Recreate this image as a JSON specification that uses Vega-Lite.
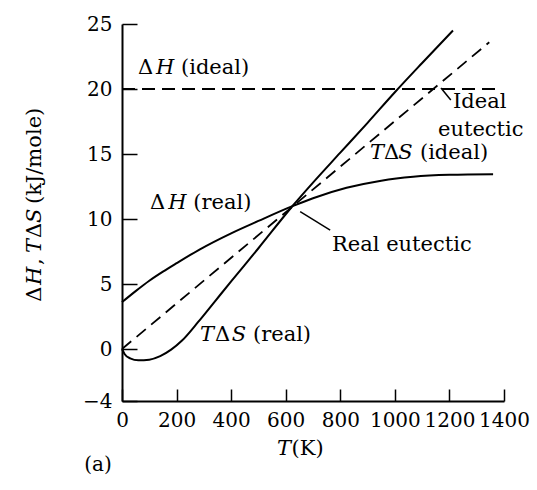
{
  "$schema": "https://vega.github.io/schema/vega-lite/v6.json",
  "width": 382,
  "height": 377,
  "autosize": {"type": "none"},
  "padding": {"left": 122, "top": 24, "right": 33, "bottom": 89},
  "background": "white",
  "config": {"view": {"stroke": null}, "font": "DejaVu Serif"},
  "datasets": {
    "curves": [
      {"series": "dH_ideal", "T": 0, "v": 20},
      {"series": "dH_ideal", "T": 1390, "v": 20},
      {"series": "dS_ideal", "T": 0, "v": 0},
      {"series": "dS_ideal", "T": 1346, "v": 23.6},
      {"series": "dH_real", "T": 0, "v": 3.6},
      {"series": "dH_real", "T": 50, "v": 4.45},
      {"series": "dH_real", "T": 100, "v": 5.25},
      {"series": "dH_real", "T": 150, "v": 5.95},
      {"series": "dH_real", "T": 200, "v": 6.6},
      {"series": "dH_real", "T": 284, "v": 7.65},
      {"series": "dH_real", "T": 400, "v": 8.9},
      {"series": "dH_real", "T": 500, "v": 9.85},
      {"series": "dH_real", "T": 620, "v": 10.95},
      {"series": "dH_real", "T": 700, "v": 11.6},
      {"series": "dH_real", "T": 823, "v": 12.4},
      {"series": "dH_real", "T": 950, "v": 12.95},
      {"series": "dH_real", "T": 1067, "v": 13.25},
      {"series": "dH_real", "T": 1200, "v": 13.4},
      {"series": "dH_real", "T": 1360, "v": 13.45},
      {"series": "dS_real", "T": 0, "v": 0},
      {"series": "dS_real", "T": 10, "v": -0.4},
      {"series": "dS_real", "T": 30, "v": -0.72},
      {"series": "dS_real", "T": 60, "v": -0.87},
      {"series": "dS_real", "T": 100, "v": -0.82},
      {"series": "dS_real", "T": 140, "v": -0.55},
      {"series": "dS_real", "T": 180, "v": -0.05},
      {"series": "dS_real", "T": 220, "v": 0.65},
      {"series": "dS_real", "T": 280, "v": 2.1},
      {"series": "dS_real", "T": 340, "v": 3.65},
      {"series": "dS_real", "T": 400, "v": 5.2},
      {"series": "dS_real", "T": 500, "v": 7.75},
      {"series": "dS_real", "T": 625, "v": 11.0},
      {"series": "dS_real", "T": 700, "v": 12.8},
      {"series": "dS_real", "T": 800, "v": 15.1},
      {"series": "dS_real", "T": 900, "v": 17.4},
      {"series": "dS_real", "T": 1000, "v": 19.75},
      {"series": "dS_real", "T": 1100, "v": 22.0},
      {"series": "dS_real", "T": 1213, "v": 24.5}
    ],
    "textRegular": [
      {"T": 58.6, "v": 21.615, "text": "Δ"},
      {"T": 216.2, "v": 21.615, "text": "(ideal)"},
      {"T": 102.6, "v": 11.23, "text": "Δ"},
      {"T": 261.3, "v": 11.23, "text": "(real)"},
      {"T": 960.2, "v": 15.077, "text": "Δ"},
      {"T": 1092, "v": 15.077, "text": "(ideal)"},
      {"T": 340.8, "v": 1.077, "text": "Δ"},
      {"T": 480, "v": 1.077, "text": "(real)"},
      {"T": 1213.1, "v": 19.0, "text": "Ideal"},
      {"T": 1158.2, "v": 16.85, "text": "eutectic"},
      {"T": 769.7, "v": 8.0, "text": "Real eutectic"},
      {"T": 621.2, "v": -7.69, "text": "(K)"}
    ],
    "textItalic": [
      {"T": 124.6, "v": 21.615, "text": "H"},
      {"T": 169.7, "v": 11.23, "text": "H"},
      {"T": 908.9, "v": 15.077, "text": "T"},
      {"T": 1012.7, "v": 15.077, "text": "S"},
      {"T": 285.9, "v": 1.077, "text": "T"},
      {"T": 402.1, "v": 1.077, "text": "S"},
      {"T": 568.1, "v": -7.69, "text": "T"}
    ],
    "ytitleRegular": [
      {"T": -318.9, "v": 3.638, "text": "Δ"},
      {"T": -318.9, "v": 6.462, "text": ","},
      {"T": -318.9, "v": 8.538, "text": "Δ"},
      {"T": -318.9, "v": 11.15, "text": "(kJ/mole)"}
    ],
    "ytitleItalic": [
      {"T": -318.9, "v": 4.923, "text": "H"},
      {"T": -318.9, "v": 7.385, "text": "T"},
      {"T": -318.9, "v": 9.692, "text": "S"}
    ],
    "leaders": [
      {"T": 1169, "v": 20.08, "T2": 1205, "v2": 19.15},
      {"T": 653, "v": 10.56, "T2": 763, "v2": 9.15}
    ],
    "panel": [
      {"T": -88, "v": -8.92, "text": "(a)"}
    ]
  },
  "layer": [
    {
      "data": {"name": "curves"},
      "transform": [{"filter": "datum.series === 'dH_ideal'"}],
      "mark": {"type": "line", "color": "black", "strokeWidth": 1.8, "strokeDash": [13, 7]},
      "encoding": {
        "x": {
          "field": "T", "type": "quantitative",
          "scale": {"domain": [0, 1400], "nice": false, "zero": false},
          "axis": {
            "values": [0, 200, 400, 600, 800, 1000, 1200, 1400],
            "format": "d",
            "grid": false,
            "tickSize": -12, "tickColor": "black", "tickWidth": 1.5,
            "domainColor": "black", "domainWidth": 2,
            "labelPadding": 21, "labelFontSize": 20, "labelFont": "DejaVu Serif", "labelColor": "black",
            "labelFlush": false, "labelOverlap": false,
            "title": null
          }
        },
        "y": {
          "field": "v", "type": "quantitative",
          "scale": {"domain": [-4, 25], "nice": false, "zero": false},
          "axis": {
            "values": [-4, 0, 5, 10, 15, 20, 25],
            "grid": false,
            "tickSize": -15, "tickColor": "black", "tickWidth": 1.5,
            "domainColor": "black", "domainWidth": 2,
            "labelPadding": 25, "labelFontSize": 20, "labelFont": "DejaVu Serif", "labelColor": "black",
            "labelFlush": false, "labelOverlap": false,
            "title": null
          }
        }
      }
    },
    {
      "data": {"name": "curves"},
      "transform": [{"filter": "datum.series === 'dS_ideal'"}],
      "mark": {"type": "line", "color": "black", "strokeWidth": 1.8, "strokeDash": [12, 7]},
      "encoding": {
        "x": {"field": "T", "type": "quantitative"},
        "y": {"field": "v", "type": "quantitative"}
      }
    },
    {
      "data": {"name": "curves"},
      "transform": [{"filter": "datum.series === 'dH_real'"}],
      "mark": {"type": "line", "color": "black", "strokeWidth": 2, "interpolate": "monotone"},
      "encoding": {
        "x": {"field": "T", "type": "quantitative"},
        "y": {"field": "v", "type": "quantitative"}
      }
    },
    {
      "data": {"name": "curves"},
      "transform": [{"filter": "datum.series === 'dS_real'"}],
      "mark": {"type": "line", "color": "black", "strokeWidth": 2, "interpolate": "monotone"},
      "encoding": {
        "x": {"field": "T", "type": "quantitative"},
        "y": {"field": "v", "type": "quantitative"}
      }
    },
    {
      "data": {"name": "leaders"},
      "mark": {"type": "rule", "color": "black", "strokeWidth": 1.5},
      "encoding": {
        "x": {"field": "T", "type": "quantitative"},
        "y": {"field": "v", "type": "quantitative"},
        "x2": {"field": "T2"},
        "y2": {"field": "v2"}
      }
    },
    {
      "data": {"name": "textRegular"},
      "mark": {"type": "text", "align": "left", "baseline": "middle", "fontSize": 21, "font": "DejaVu Serif", "color": "black", "clip": false},
      "encoding": {
        "x": {"field": "T", "type": "quantitative"},
        "y": {"field": "v", "type": "quantitative"},
        "text": {"field": "text"}
      }
    },
    {
      "data": {"name": "textItalic"},
      "mark": {"type": "text", "align": "left", "baseline": "middle", "fontSize": 21, "font": "DejaVu Serif", "fontStyle": "italic", "color": "black", "clip": false},
      "encoding": {
        "x": {"field": "T", "type": "quantitative"},
        "y": {"field": "v", "type": "quantitative"},
        "text": {"field": "text"}
      }
    },
    {
      "data": {"name": "ytitleRegular"},
      "mark": {"type": "text", "align": "left", "baseline": "middle", "angle": 270, "fontSize": 21, "font": "DejaVu Serif", "color": "black", "clip": false},
      "encoding": {
        "x": {"field": "T", "type": "quantitative"},
        "y": {"field": "v", "type": "quantitative"},
        "text": {"field": "text"}
      }
    },
    {
      "data": {"name": "ytitleItalic"},
      "mark": {"type": "text", "align": "left", "baseline": "middle", "angle": 270, "fontSize": 21, "font": "DejaVu Serif", "fontStyle": "italic", "color": "black", "clip": false},
      "encoding": {
        "x": {"field": "T", "type": "quantitative"},
        "y": {"field": "v", "type": "quantitative"},
        "text": {"field": "text"}
      }
    },
    {
      "data": {"name": "panel"},
      "mark": {"type": "text", "align": "center", "baseline": "middle", "fontSize": 20, "font": "DejaVu Serif", "color": "black", "clip": false},
      "encoding": {
        "x": {"field": "T", "type": "quantitative"},
        "y": {"field": "v", "type": "quantitative"},
        "text": {"field": "text"}
      }
    }
  ]
}
